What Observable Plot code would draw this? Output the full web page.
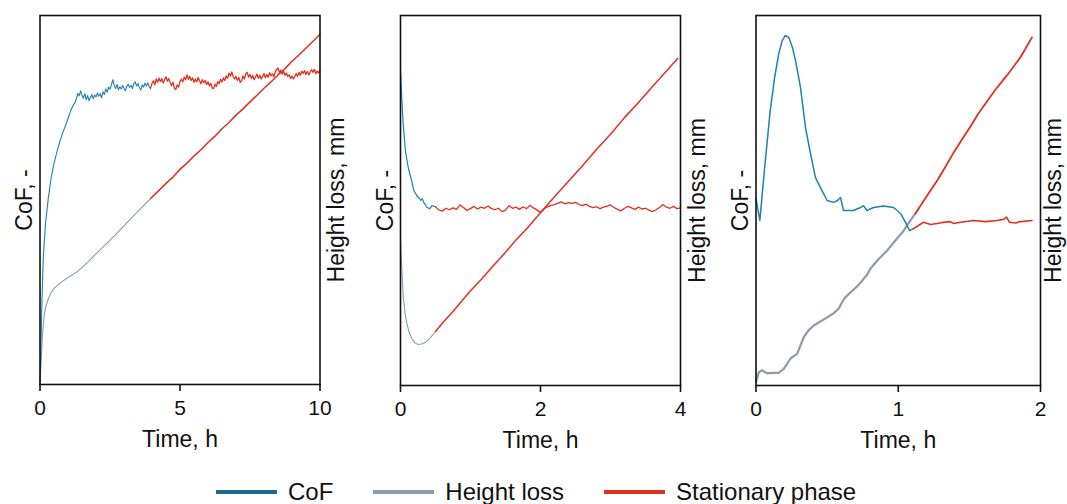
<!DOCTYPE html>
<html>
<head>
<meta charset="utf-8">
<script src="https://cdn.jsdelivr.net/npm/d3@7"></script>
<script src="https://cdn.jsdelivr.net/npm/@observablehq/plot@0.6"></script>
<style>
  body { margin: 0; background: #fff; }
  #chart { position: relative; width: 1067px; height: 504px; font-family: "Liberation Sans", Arial, sans-serif; }
  .panel { position: absolute; top: 0; }
  #legend { position: absolute; left: 216px; top: 478px; display: flex; align-items: center; font-size: 24px; color: #111; white-space: nowrap; }
  #legend .item { display: flex; align-items: center; margin-right: 40px; }
  #legend .sw { width: 61px; height: 4px; margin-right: 11px; }
</style>
</head>
<body>
<div id="chart"></div>
<script>
// Colours of the three series
const colorCoF = "#2080b3";
const colorHeight = "#8c9ba8";
const colorStationary = "#e2301f";
const legendItems = [
  ["CoF", "#1a6a98"],
  ["Height loss", colorHeight],
  ["Stationary phase", colorStationary]
];

// Axis labels and ticks
const xTitle = "Time, h";
const yLeftTitle = "CoF, -";
const yRightTitle = "Height loss, mm";
const ticks1 = [0, 5, 10];
const ticks2 = [0, 2, 4];
const ticks3 = [0, 1, 2];

// Panel 1 (0–10 h). Values are in relative axis units (0–100).
const cofRunIn1 = [
  [0, 0], [0.03, 9.2], [0.07, 22.8], [0.12, 35], [0.2, 43.9], [0.3, 50.7], [0.4, 56.1],
  [0.5, 59.9], [0.6, 62.9], [0.7, 65.6], [0.8, 68], [0.9, 69.9], [1.0, 72.1], [1.1, 74.3],
  [1.2, 75.9], [1.25, 76.4]
];
const cofRunInNoisyStart1 = 1.3, cofStep1 = 0.05;
const cofRunInNoisy1 = [
  77.5, 78.9, 78.2, 79.6, 78.4, 77.6, 78.8, 77.2, 78.3, 76.9, 77.8, 78.6, 77.4, 78.5, 77.9, 79.0,
  78.1, 78.8, 77.7, 79.3, 78.6, 80.1, 79.2, 80.6, 80.0, 81.2, 82.6, 81.0, 80.2, 81.3, 79.9, 80.7,
  80.1, 81.0, 80.3, 79.6, 80.8, 81.4, 80.5, 81.1, 80.2, 81.5, 82.0, 80.9, 81.6, 80.4, 79.8, 81.2,
  80.6, 81.7, 80.9, 81.8, 80.7, 80.2
];
const cofStationaryStart1 = 3.95;
const cofStationary1 = [
  80.4, 81.6, 82.3, 81.2, 82.8, 81.9, 83.0, 82.1, 82.9, 81.7, 82.6, 83.4, 82.2, 82.9, 81.8, 81.0,
  81.9, 80.3, 79.9, 81.2, 80.6, 82.1, 82.8, 82.0, 83.3, 82.6, 83.9, 82.7, 83.5, 82.4, 83.1, 81.9,
  82.8, 82.0, 83.2, 82.3, 81.5, 82.6, 81.8, 82.4, 81.3, 82.0, 80.9, 81.6, 80.4, 80.2, 81.4, 80.8,
  82.1, 81.5, 82.7, 82.0, 83.1, 82.4, 83.6, 83.0, 84.4, 83.6, 84.7, 83.4, 82.8, 83.5, 82.4, 83.2,
  81.9, 82.3, 83.6, 82.8, 84.2, 84.6, 83.3, 84.0, 82.9, 83.7, 82.6, 83.4, 84.1, 83.0, 83.8, 82.8,
  83.5, 84.3, 83.1, 84.0, 83.3, 84.5, 83.7, 84.2, 83.4, 84.8, 85.3, 85.8, 84.6, 85.2, 84.1, 84.9,
  83.8, 84.4, 83.5, 83.9, 82.9, 83.6, 82.8, 83.4, 84.3, 83.5, 84.6, 83.8, 84.9, 84.3, 85.1, 84.0,
  84.8, 83.9, 84.7, 85.3, 84.6, 85.4, 84.2, 85.0, 84.4, 85.2
];
const heightRunIn1 = [
  [0, 0], [0.05, 7.9], [0.1, 14.6], [0.15, 18.7], [0.2, 20.9], [0.3, 23.3], [0.4, 24.9],
  [0.5, 26], [0.7, 27.4], [1.0, 29], [1.3, 30.4], [1.7, 33.1], [2.0, 35.4], [2.5, 39.1],
  [2.87, 42.0], [3.4, 46.2], [3.95, 50.4]
];
const heightStationary1 = [
  [3.95, 50.4], [4.25, 52.6], [4.5, 54.5], [4.75, 56.2], [5, 58.3], [5.25, 60.0], [5.5, 61.9],
  [5.75, 63.6], [6, 65.6], [6.25, 67.3], [6.5, 69.3], [6.75, 71.0], [7, 73.0], [7.25, 74.7],
  [7.5, 76.6], [7.75, 78.4], [8, 80.3], [8.25, 82.0], [8.5, 83.9], [8.75, 85.6], [9, 87.6],
  [9.25, 89.3], [9.5, 91.2], [9.75, 93.0], [10, 94.9]
];

// Panel 2 (0–4 h)
const cofRunIn2 = [
  [0, 85.1], [0.02, 77.0], [0.04, 70.3], [0.07, 63.5], [0.1, 60.0], [0.12, 58.1], [0.16, 55.4],
  [0.19, 52.7], [0.24, 51.1], [0.27, 50.6], [0.29, 50.0], [0.31, 50.5], [0.34, 49.2], [0.38, 48.1],
  [0.42, 47.8], [0.45, 48.6], [0.5, 48.3]
];
const cofStationaryStart2 = 0.5, cofStep2 = 0.05;
const cofStationary2 = [
  48.3, 47.4, 47.2, 47.9, 47.5, 48.0, 47.6, 48.8, 48.1, 47.3, 47.8, 48.4, 47.7, 48.2, 47.9, 48.5,
  47.8, 47.5, 47.9, 47.0, 47.4, 48.6, 47.9, 48.2, 47.6, 48.3, 47.8, 48.7, 48.0, 47.4, 46.8, 47.7,
  48.3, 48.7, 48.9, 49.3, 49.6, 49.1, 49.4, 49.2, 49.5, 48.9, 48.6, 49.0, 48.4, 48.1, 48.3, 47.8,
  48.2, 48.5, 48.8, 48.1, 47.6, 47.2, 47.9, 48.4, 48.0, 47.6, 48.2, 47.7, 47.9, 47.4, 47.0, 47.5,
  48.1, 48.9, 48.2, 47.9, 48.4, 47.8, 48.0
];
const heightRunIn2 = [
  [0, 39.2], [0.02, 31.1], [0.04, 23.8], [0.07, 18.9], [0.09, 16.8], [0.12, 14.6], [0.16, 12.7],
  [0.2, 11.6], [0.25, 11.1], [0.3, 11.2], [0.35, 11.6], [0.4, 12.4], [0.44, 13.2], [0.5, 14.6]
];
const heightStationary2 = [
  [0.5, 14.6], [0.6, 16.9], [0.75, 20.0], [0.9, 23.4], [1.0, 25.6], [1.15, 28.6], [1.3, 31.8],
  [1.5, 36.0], [1.65, 39.3], [1.8, 42.3], [2.0, 46.7], [2.2, 51.0], [2.4, 55.2], [2.6, 59.4],
  [2.8, 63.8], [3.0, 67.9], [3.2, 72.4], [3.4, 76.5], [3.6, 80.8], [3.8, 85.0], [3.96, 88.4]
];

// Panel 3 (0–2 h)
const cofRunIn3 = [
  [0, 50.5], [0.027, 44.6], [0.06, 58.5], [0.1, 74.3], [0.13, 83.0], [0.16, 89.7], [0.184, 93.2],
  [0.207, 94.6], [0.23, 94.1], [0.255, 91.5], [0.278, 87.8], [0.313, 80.5], [0.348, 69.7],
  [0.383, 62.7], [0.418, 56.2], [0.453, 53.5], [0.5, 50.0], [0.545, 49.5], [0.573, 50.0],
  [0.594, 50.8], [0.615, 47.3], [0.685, 47.3], [0.735, 48.1], [0.756, 48.6], [0.78, 47.3],
  [0.826, 48.1], [0.896, 48.5], [0.967, 48.1], [1.016, 46.5], [1.051, 44.1], [1.079, 41.9],
  [1.107, 42.4]
];
const cofStationary3 = [
  [1.107, 42.4], [1.12, 42.7], [1.177, 44.1], [1.227, 43.5], [1.274, 43.8], [1.318, 44.1],
  [1.367, 44.3], [1.388, 43.8], [1.438, 44.1], [1.529, 44.6], [1.613, 44.3], [1.696, 44.6],
  [1.74, 44.9], [1.761, 45.5], [1.782, 44.1], [1.824, 43.9], [1.86, 44.3], [1.94, 44.6]
];
const heightRunIn3 = [
  [0, 0.9], [0.02, 3.6], [0.044, 4.1], [0.079, 3.3], [0.116, 3.4], [0.16, 3.4], [0.195, 4.5],
  [0.243, 7.3], [0.29, 8.6], [0.336, 13.1], [0.369, 14.9], [0.406, 16.2], [0.453, 17.3],
  [0.5, 18.4], [0.545, 19.5], [0.582, 20.8], [0.608, 22.7], [0.629, 23.9], [0.671, 25.4],
  [0.711, 26.8], [0.742, 28.1], [0.758, 28.9], [0.777, 29.7], [0.805, 31.6], [0.861, 34.1],
  [0.922, 36.5], [0.98, 39.2], [1.039, 41.9], [1.086, 44.6], [1.121, 46.5]
];
const heightStationary3 = [
  [1.121, 46.5], [1.18, 50.0], [1.274, 55.4], [1.33, 59.0], [1.39, 63.0], [1.45, 66.6],
  [1.508, 70.0], [1.56, 73.3], [1.625, 76.8], [1.68, 79.8], [1.73, 82.2], [1.76, 83.6],
  [1.8, 85.6], [1.86, 88.8], [1.9, 91.4], [1.94, 94.1]
];

// Helpers to turn the arrays into rows
const rows = (pairs) => pairs.map(([t, v]) => ({t, v}));
const sampled = (start, step, values) => values.map((v, i) => ({t: +(start + i * step).toFixed(3), v}));

const fontStack = "'Liberation Sans', Arial, sans-serif";

function panel({left, width, marginLeft, marginRight, marginBottom, domain, ticks, rightDx, lines}) {
  const marks = lines.map(([data, stroke, strokeWidth]) =>
    Plot.line(data, {x: "t", y: "v", stroke, strokeWidth, strokeLinejoin: "round"})
  );
  marks.push(
    Plot.frame({stroke: "#111", strokeWidth: 1.6}),
    Plot.axisX({ticks, tickFormat: d3.format("d"), tickSize: 7, tickPadding: 9, fontSize: 21, label: null, strokeWidth: 1.6}),
    Plot.text([xTitle], {text: d => d, frameAnchor: "bottom", lineAnchor: "top", textAnchor: "middle", dy: 46, fontSize: 23, fill: "#111"}),
    Plot.text([yLeftTitle], {text: d => d, frameAnchor: "left", textAnchor: "middle", lineAnchor: "middle", rotate: -90, dx: -15, fontSize: 23, fill: "#111"}),
    Plot.text([yRightTitle], {text: d => d, frameAnchor: "right", textAnchor: "middle", lineAnchor: "middle", rotate: -90, dx: rightDx, fontSize: 23, fill: "#111"})
  );
  const svg = Plot.plot({
    width, height: 460,
    marginLeft, marginRight, marginTop: 15, marginBottom,
    x: {domain},
    y: {domain: [0, 100], axis: null},
    style: {fontFamily: fontStack, color: "#111", background: "transparent", overflow: "visible"},
    marks
  });
  svg.classList.add("panel");
  svg.style.left = left + "px";
  return svg;
}

const chart = document.getElementById("chart");

chart.append(panel({
  left: 0, width: 360, marginLeft: 39.5, marginRight: 40.5, marginBottom: 76,
  domain: [0, 10], ticks: ticks1, rightDx: 17,
  lines: [
    [rows(heightRunIn1), colorHeight, 1.1],
    [rows(heightStationary1), colorStationary, 1.5],
    [rows(cofRunIn1).concat(sampled(cofRunInNoisyStart1, cofStep1, cofRunInNoisy1)), colorCoF, 1.1],
    [sampled(cofStationaryStart1, cofStep1, cofStationary1), colorStationary, 1.3]
  ]
}));

chart.append(panel({
  left: 360, width: 360, marginLeft: 40, marginRight: 40, marginBottom: 75,
  domain: [0, 4], ticks: ticks2, rightDx: 17,
  lines: [
    [rows(heightRunIn2), colorHeight, 1.1],
    [rows(heightStationary2), colorStationary, 1.5],
    [rows(cofRunIn2), colorCoF, 1.2],
    [sampled(cofStationaryStart2, cofStep2, cofStationary2), colorStationary, 1.3]
  ]
}));

chart.append(panel({
  left: 720, width: 347, marginLeft: 35.5, marginRight: 27, marginBottom: 75,
  domain: [0, 2], ticks: ticks3, rightDx: 13,
  lines: [
    [rows(heightRunIn3), colorHeight, 2.2],
    [rows(heightStationary3), colorStationary, 1.8],
    [rows(cofRunIn3), colorCoF, 1.5],
    [rows(cofStationary3), colorStationary, 1.6]
  ]
}));

// Legend
const legend = document.createElement("div");
legend.id = "legend";
for (const [name, color] of legendItems) {
  const item = document.createElement("div");
  item.className = "item";
  const sw = document.createElement("span");
  sw.className = "sw";
  sw.style.background = color;
  const label = document.createElement("span");
  label.textContent = name;
  item.append(sw, label);
  legend.append(item);
}
chart.append(legend);
</script>
</body>
</html>
